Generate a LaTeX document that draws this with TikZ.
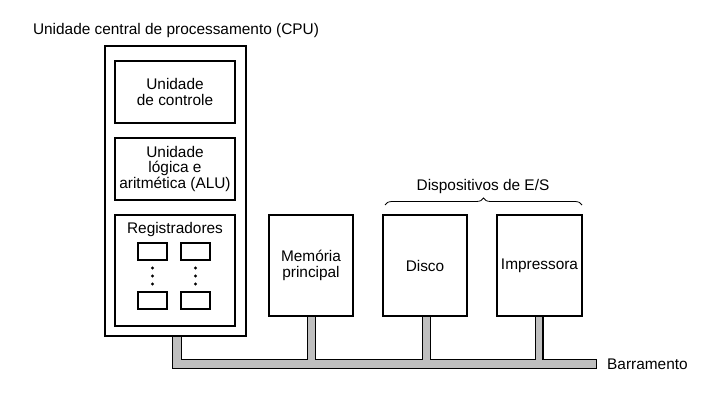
\documentclass[tikz,border=0pt]{standalone}
\usepackage{fontspec}
\setmainfont{Liberation Sans}
\usetikzlibrary{decorations.pathreplacing,backgrounds}
\begin{document}
\begin{tikzpicture}[x=1pt,y=-1pt,
  lbl/.style={inner sep=0pt,align=center,font=\fontsize{15.4}{15.5}\selectfont},
  box/.style={lbl,draw,line width=1.2pt},
  regbox/.style={draw,line width=1.2pt,minimum width=29pt,minimum height=17pt,inner sep=0pt},
  busout/.style={line width=10pt,black,line join=miter},
  busin/.style={line width=7.6pt,gray!50,line join=miter},
  stubout/.style={line width=9pt,black},
  stubin/.style={line width=6.6pt,gray!50},
  regdot/.style={fill=black}
]
\useasboundingbox (0,0) rectangle (722,403);
% CPU
\node[box,minimum width=141pt,minimum height=290pt] (cpu) at (175.5,191) {};
\node[lbl] (cputitle) at (176,31) {Unidade central de processamento (CPU)};
\node[box,minimum width=120pt,minimum height=62pt] (cu) at (175,92) {Unidade\\de controle};
\node[box,minimum width=120pt,minimum height=62pt] (alu) at (175,169) {Unidade\\lógica e\\aritmética (ALU)};
\node[box,minimum width=120pt,minimum height=111pt] (reg) at (175,270.5) {};
\node[lbl] (regtitle) at (175,230) {Registradores};
\node[regbox] (r1) at (152.5,251.5) {};
\node[regbox] (r2) at (195.5,251.5) {};
\node[regbox] (r3) at (152.5,300.5) {};
\node[regbox] (r4) at (195.5,300.5) {};
\foreach \y in {268,276,284} {
  \fill[regdot] (r1.south |- 0,\y) circle (1.6pt);
  \fill[regdot] (r2.south |- 0,\y) circle (1.6pt);
}
% devices
\node[box,minimum width=84pt,minimum height=101pt] (mem) at (311,265.5) {Memória\\principal};
\node[box,minimum width=84pt,minimum height=101pt] (disk) at (425,265.5) {Disco};
\node[box,minimum width=85pt,minimum height=101pt] (prn) at (539.5,265.5) {Impressora};
% brace
\coordinate (brL) at (385,205);
\coordinate (brR) at (582,205);
\draw[line width=0.8pt,decorate,decoration={brace,amplitude=7pt}] (brL) -- (brR);
\node[lbl] (io) at (483,187) {Dispositivos de E/S};
% bus
\coordinate (cpustub) at (177,337);
\coordinate (busC) at (177,364);
\coordinate (busR) at (597,364);
\node[lbl,anchor=west] (buslbl) at (607,364) {Barramento};
\begin{scope}[on background layer]
  \fill[white] (0,0) rectangle (722,403);
  \draw[busout] (cpu.south -| cpustub) -- (busC) -- (busR);
  \draw[stubout] (mem.south -| 311.5,0) -- (311.5,364);
  \draw[stubout] (disk.south -| 426.5,0) -- (426.5,364);
  \draw[stubout] (prn.south -| 539,0) -- (539,364);
  \draw[busin] (cpu.south -| cpustub) -- (busC) -- ([xshift=-1.2pt]busR);
  \draw[stubin] (mem.south -| 311.5,0) -- (311.5,364);
  \draw[stubin] (disk.south -| 426.5,0) -- (426.5,364);
  \draw[stubin] (prn.south -| 539,0) -- (539,364);
\end{scope}
\end{tikzpicture}
\end{document}
